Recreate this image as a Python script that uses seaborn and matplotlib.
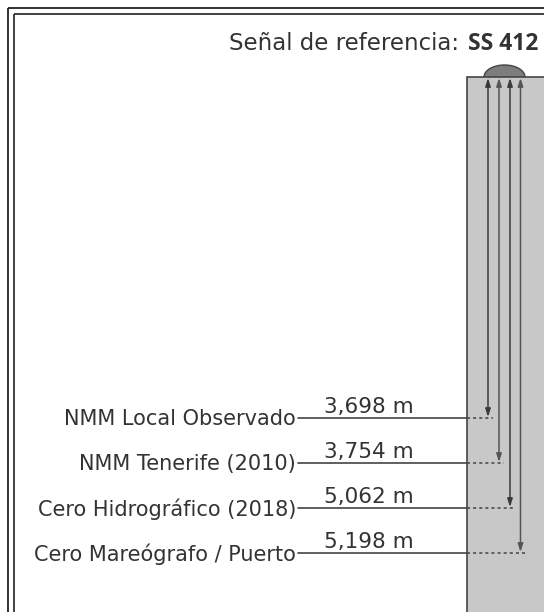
import numpy as np
import matplotlib.pyplot as plt
import matplotlib.patches as mpatches
import seaborn as sns

# datos del esquema
niveles = ["NMM Local Observado", "NMM Tenerife (2010)",
           "Cero Hidrográfico (2018)", "Cero Mareógrafo / Puerto"]
distancias = [3.698, 3.754, 5.062, 5.198]  # m bajo la señal
senal = "SS 412"

sns.set_theme(style="white")
plt.rcParams['font.family'] = ['DejaVu Sans']

TXT = "#333333"
LIN = "#444444"

fig = plt.figure(figsize=(5.44, 6.12), dpi=100)
ax = fig.add_axes([0, 0, 1, 1])
ax.set_xlim(0, 544)
ax.set_ylim(612, 0)
ax.axis("off")

# marco doble (se sale por la derecha y por abajo)
for off, col in [(8, "#222222"), (13.5, "#333333")]:
    ax.add_patch(mpatches.Rectangle((off, off), 600, 700, fill=False,
                                    edgecolor=col, lw=1.3, zorder=1))

# pilar y cúpula de la señal
top_pilar = 77
x_pilar = 467
ax.add_patch(mpatches.Ellipse((504.5, top_pilar), 41, 24, facecolor="#7d7d7d",
                              edgecolor=LIN, lw=1.0, zorder=2))
ax.add_patch(mpatches.Rectangle((x_pilar, top_pilar), 200, 700, facecolor="#c8c8c8",
                                edgecolor=LIN, lw=1.2, zorder=3))

# niveles
y0, dy = 418, 45
x_arrows = [488, 499, 510, 520.5]
for i, (nom, d) in enumerate(zip(niveles, distancias)):
    y = y0 + i * dy
    xa = x_arrows[i]
    # línea de cota
    ax.plot([298, x_pilar], [y, y], color=LIN, lw=1.2, zorder=4)
    ax.plot([x_pilar, xa + 5], [y, y], color=LIN, lw=1.1,
            linestyle=(0, (2, 2)), zorder=4)
    # flecha desde la señal
    ax.annotate("", xy=(xa, y - 1), xytext=(xa, top_pilar + 1),
                arrowprops=dict(arrowstyle="<|-|>,head_length=0.4,head_width=0.13",
                                color="#3a3a3a" if i % 2 == 0 else "#555555",
                                lw=1.1, shrinkA=0, shrinkB=0), zorder=5)
    ax.text(296, y + 1, nom, ha="right", va="center", fontsize=15, color=TXT)
    ax.text(324, y - 5, f"{d:.3f}".replace(".", ",") + " m", ha="left",
            va="baseline", fontsize=15.5, color=TXT)

# título
b = ax.text(538, 50, senal, ha="right", va="baseline", fontsize=16.5,
            fontweight="bold", family="Open Sans", color=TXT)
fig.canvas.draw()
bb = b.get_window_extent().transformed(ax.transData.inverted())
ax.text(bb.x0 - 1, 50, "Señal de referencia: ", ha="right", va="baseline",
        fontsize=16.5, color=TXT)

fig.savefig("out.png", dpi=100)
